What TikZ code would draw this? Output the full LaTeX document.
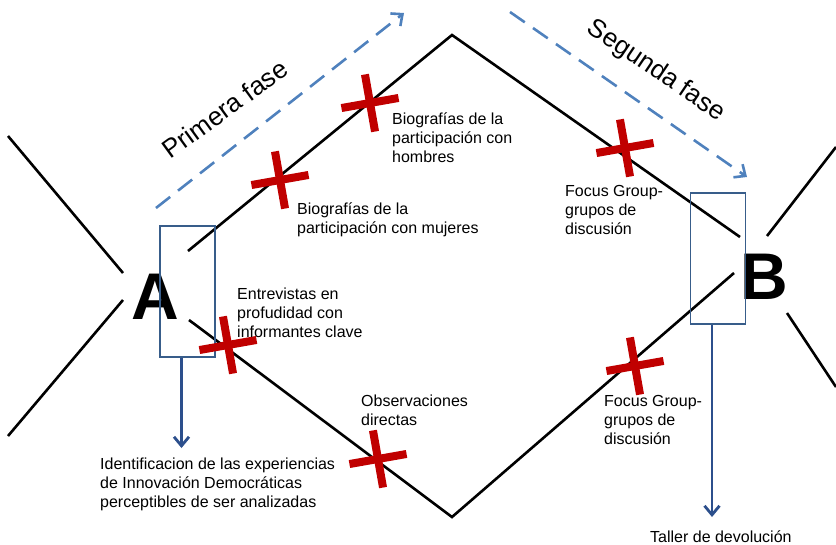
\documentclass[tikz,border=0pt]{standalone}
\usepackage{fontspec}
\setmainfont{Liberation Sans}
\usetikzlibrary{arrows.meta}
\definecolor{fasecol}{RGB}{79,129,189}
\definecolor{cajacol}{RGB}{56,93,138}
\definecolor{flechacol}{RGB}{44,79,140}
\definecolor{cruzcol}{RGB}{192,0,0}
\tikzset{
  etiqueta/.style={align=left,anchor=base west,inner sep=0pt,font=\fontsize{16}{18.6}\selectfont},
  fase/.style={font=\fontsize{26}{30}\selectfont},
  fasearrow/.style={fasecol,line width=2.6pt,dash pattern=on 18pt off 10pt,-{Straight Barb[length=9pt,width=16pt]}},
  caja/.style={draw=cajacol,line width=1.8pt,minimum width=55pt,minimum height=131pt,inner sep=0pt},
  bajada/.style={flechacol,line width=2.8pt,-{Straight Barb[length=9pt,width=15pt]}},
  camino/.style={line width=2.6pt},
  letra/.style={font=\fontsize{66}{70}\selectfont\bfseries},
  cruz/.pic={\draw[cruzcol,line width=8pt] (-29,0) -- (29,0) (0,-29) -- (0,29);}
}
\begin{document}
\begin{tikzpicture}[x=1pt,y=-1pt]
  \useasboundingbox (0,0) rectangle (836,544);

  % the two crossings and the diamond between them
  \draw[camino] (8,136) -- (123,273);
  \draw[camino] (123,300) -- (8,436);
  \draw[camino] (188,251) -- (452,35) -- (740,237);
  \draw[camino] (189,320) -- (452,517) -- (734,273);
  \draw[camino] (767,236) -- (836,147);
  \draw[camino] (787,313) -- (836,387);

  \node[letra] (A) at (155,297) {A};
  \node[letra] (B) at (764,277) {B};
  \node[caja] (boxA) at (187.5,291.5) {};
  \node[caja] (boxB) at (718,258.5) {};

  % phases
  \coordinate (p1) at (156,208); \coordinate (p2) at (404,13);
  \coordinate (s1) at (510,12);  \coordinate (s2) at (747,177);
  \draw[fasearrow] (p1) -- (p2);
  \draw[fasearrow] (s1) -- (s2);
  \node[fase,rotate=36] (primera) at (225,109) {Primera fase};
  \node[fase,rotate=-34] (segunda) at (656,71) {Segunda fase};

  % techniques (base = last line)
  \foreach \cx/\cy in {280/180,370/103,625/148,635/366,378/459,228/345}
    \pic[rotate=10] at (\cx,\cy) {cruz};

  \node[etiqueta] (bioh) at (392,162) {Biografías de la\\participación con\\hombres};
  \node[etiqueta] (biom) at (297,233) {Biografías de la\\participación con mujeres};
  \node[etiqueta] (entr) at (237,337) {Entrevistas en\\profudidad con\\informantes clave};
  \node[etiqueta] (obs) at (361,425) {Observaciones\\directas};
  \node[etiqueta] (foc1) at (565,234) {Focus Group-\\grupos de\\discusión};
  \node[etiqueta] (foc2) at (604,444) {Focus Group-\\grupos de\\discusión};
  \node[etiqueta] (ident) at (100,507) {Identificacion de las experiencias\\de Innovación Democráticas\\perceptibles de ser analizadas};
  \node[etiqueta] (taller) at (650,542) {Taller de devolución};

  \coordinate (iniA) at ([xshift=-6pt]boxA.south);
  \coordinate (iniB) at ([xshift=-6pt]boxB.south);
  \coordinate (finA) at (iniA |- 0,448);
  \coordinate (finB) at (iniB |- 0,517);
  \draw[bajada] (iniA) -- (finA);
  \draw[bajada] (iniB) -- (finB);
\end{tikzpicture}
\end{document}
